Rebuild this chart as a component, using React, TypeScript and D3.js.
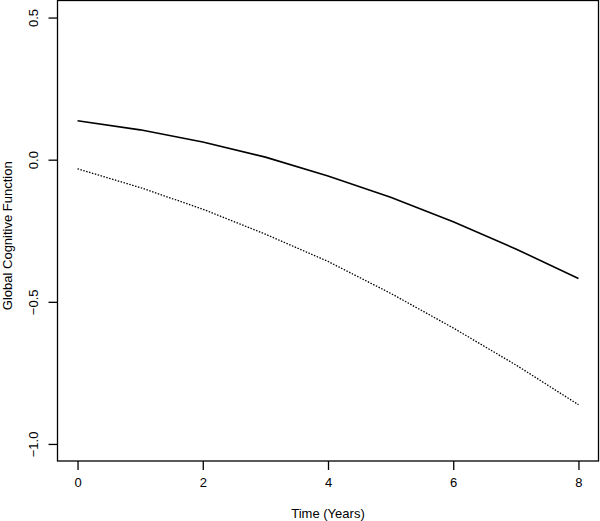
import { useEffect, useRef } from 'react'
import * as d3 from 'd3'

const years = [0, 1, 2, 3, 4, 5, 6, 7, 8]
const solidSeries = [0.137, 0.105, 0.062, 0.009, -0.057, -0.132, -0.218, -0.314, -0.418]
const dottedSeries = [-0.032, -0.098, -0.174, -0.262, -0.358, -0.47, -0.592, -0.722, -0.862]
const xTicks = [0, 2, 4, 6, 8]
const yTicks = [-1.0, -0.5, 0.0, 0.5]

export default function App() {
  const svgRef = useRef<SVGSVGElement | null>(null)

  useEffect(() => {
    const W = 600
    const H = 521
    const margin = { top: 0.5, right: 1.5, bottom: 60, left: 57.5 }
    const innerW = W - margin.left - margin.right
    const innerH = H - margin.top - margin.bottom

    // R-style 4% axis extension
    const x = d3.scaleLinear().domain([-0.32, 8.32]).range([0, innerW])
    const y = d3.scaleLinear().domain([-1.06, 0.56]).range([innerH, 0])

    const svg = d3.select(svgRef.current)
    svg.selectAll('*').remove()
    const g = svg.append('g').attr('transform', `translate(${margin.left},${margin.top})`)
    const font = 'Liberation Sans, Arial, sans-serif'

    g.append('rect')
      .attr('x', 0).attr('y', 0).attr('width', innerW).attr('height', innerH)
      .attr('fill', 'none').attr('stroke', '#000').attr('stroke-width', 1.3)

    g.append('g')
      .attr('transform', `translate(0,${innerH})`)
      .call(d3.axisBottom(x).tickValues(xTicks).tickSize(9).tickPadding(8).tickFormat(d3.format('d')))
      .call((ax) => ax.select('.domain').remove())
      .call((ax) => ax.selectAll('.tick line').attr('stroke', '#000').attr('stroke-width', 1.3))
      .call((ax) => ax.selectAll('text').attr('fill', '#000').attr('font-size', 13).attr('font-family', font))

    const yAxis = g.append('g')
      .call(d3.axisLeft(y).tickValues(yTicks).tickSize(9).tickFormat((d) => d3.format('.1f')(d as number)))
      .call((ax) => ax.select('.domain').remove())
      .call((ax) => ax.selectAll('.tick line').attr('stroke', '#000').attr('stroke-width', 1.3))
    yAxis.selectAll('text')
      .attr('fill', '#000').attr('font-size', 13).attr('font-family', font)
      .attr('x', null).attr('dy', null)
      .attr('transform', 'translate(-24,0) rotate(-90)')
      .attr('text-anchor', 'middle')
      .attr('dominant-baseline', 'central')

    const line = d3.line<number>()
      .x((_, i) => x(years[i]))
      .y((d) => y(d))

    g.append('path')
      .datum(solidSeries)
      .attr('fill', 'none').attr('stroke', '#000').attr('stroke-width', 1.6)
      .attr('d', line)

    g.append('path')
      .datum(dottedSeries)
      .attr('fill', 'none').attr('stroke', '#000').attr('stroke-width', 1.3)
      .attr('stroke-dasharray', '1.5,1.5')
      .attr('d', line)

    svg.append('text')
      .attr('x', margin.left + innerW / 2).attr('y', 518)
      .attr('text-anchor', 'middle').attr('font-size', 13).attr('font-family', font)
      .text('Time (Years)')

    svg.append('text')
      .attr('transform', `translate(12,${margin.top + innerH / 2 + 5}) rotate(-90)`)
      .attr('text-anchor', 'middle').attr('font-size', 13).attr('font-family', font)
      .text('Global Cognitive Function')
  }, [])

  return (
    <div style={{ position: 'absolute', left: 0, top: 0 }}>
      <svg ref={svgRef} width={600} height={521} style={{ display: 'block', background: '#fff' }} />
    </div>
  )
}
